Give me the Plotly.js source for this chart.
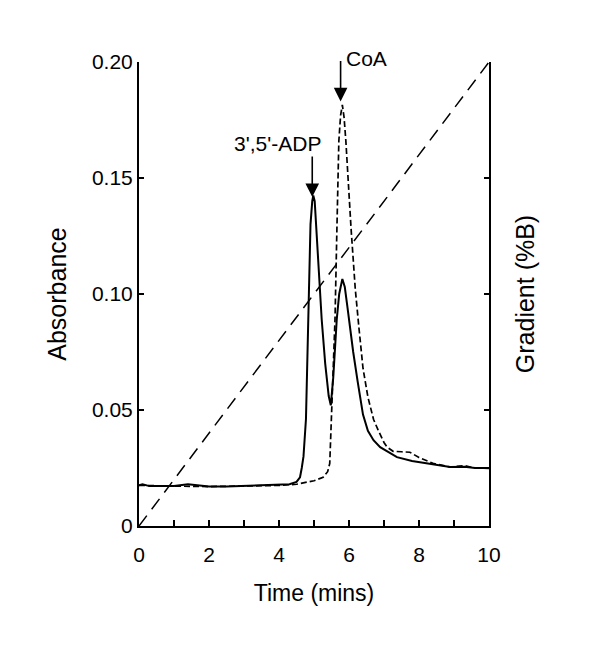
<!DOCTYPE html>
<html>
<head>
<meta charset="utf-8">
<script src="https://cdn.plot.ly/plotly-3.0.1.min.js"></script>
<style>
  body { margin: 0; background: #fff; }
  #chart { width: 600px; height: 645px; }
</style>
</head>
<body>
<div id="chart"></div>
<script>
// 3',5'-ADP trace (solid)
var adpTime = [0, 0.1, 0.3, 1.0, 1.4, 2.0, 2.5, 3.0, 3.5, 4.0, 4.3, 4.5, 4.6, 4.65, 4.7, 4.77, 4.82, 4.86, 4.9, 4.95, 4.98, 5.02, 5.06, 5.12, 5.22, 5.32, 5.42, 5.48, 5.55, 5.65, 5.72, 5.81, 5.88, 5.95, 6.03, 6.12, 6.25, 6.4, 6.54, 6.7, 6.89, 7.1, 7.37, 7.8, 8.23, 8.6, 8.89, 9.3, 9.6, 10];
var adpAbs  = [0.0175, 0.018, 0.0172, 0.0172, 0.018, 0.017, 0.017, 0.0172, 0.0175, 0.0178, 0.018, 0.019, 0.021, 0.025, 0.03, 0.046, 0.075, 0.105, 0.13, 0.14, 0.1425, 0.14, 0.13, 0.11, 0.089, 0.07, 0.056, 0.052, 0.064, 0.089, 0.1, 0.1065, 0.103, 0.095, 0.085, 0.075, 0.062, 0.048, 0.041, 0.037, 0.034, 0.032, 0.0297, 0.028, 0.027, 0.026, 0.0254, 0.0255, 0.025, 0.025];

// CoA trace (dashed)
var coaTime = [0, 0.5, 1.0, 2.0, 3.0, 4.0, 4.5, 4.8, 5.0, 5.26, 5.39, 5.45, 5.49, 5.55, 5.6, 5.65, 5.71, 5.76, 5.81, 5.86, 5.91, 6.06, 6.09, 6.18, 6.29, 6.4, 6.54, 6.7, 6.83, 7.0, 7.09, 7.26, 7.5, 7.74, 8.0, 8.4, 8.89, 9.3, 9.6, 10];
var coaAbs  = [0.0175, 0.0175, 0.0172, 0.017, 0.0172, 0.0175, 0.018, 0.019, 0.0195, 0.021, 0.0234, 0.027, 0.046, 0.068, 0.089, 0.125, 0.166, 0.177, 0.1815, 0.176, 0.166, 0.128, 0.122, 0.102, 0.0845, 0.068, 0.0556, 0.046, 0.0414, 0.036, 0.034, 0.0322, 0.032, 0.0318, 0.0295, 0.027, 0.0254, 0.026, 0.025, 0.0248];

// gradient (%B)
var gradTime = [0, 10];
var gradB = [0, 100];

var xTicks = [0, 1, 2, 3, 4, 5, 6, 7, 8, 9, 10];
var xTickText = ['0', '', '2', '', '4', '', '6', '', '8', '', '10'];
var yTicks = [0, 0.05, 0.10, 0.15, 0.20];
var yTickText = ['0', '0.05', '0.10', '0.15', '0.20'];

var font = 'Liberation Sans, Arial, sans-serif';

var traces = [
  { x: gradTime, y: gradB, yaxis: 'y2', mode: 'lines',
    line: { color: '#000', width: 1.5, dash: '13px,8px' }, hoverinfo: 'skip' },
  { x: coaTime, y: coaAbs, mode: 'lines',
    line: { color: '#000', width: 1.7, dash: '6px,3px' } },
  { x: adpTime, y: adpAbs, mode: 'lines',
    line: { color: '#000', width: 2 } }
];

var layout = {
  width: 600, height: 645,
  margin: { l: 139, r: 111, t: 62, b: 119 },
  paper_bgcolor: '#fff', plot_bgcolor: '#fff',
  showlegend: false,
  font: { family: font, size: 21, color: '#000' },
  xaxis: {
    range: [0, 10], tickvals: xTicks, ticktext: xTickText,
    ticks: 'inside', ticklen: 6, tickwidth: 1.5, tickcolor: '#000',
    showline: true, linecolor: '#000', linewidth: 2,
    showgrid: false, zeroline: false, ticklabelstandoff: 9,
    title: { text: 'Time (mins)', font: { size: 23 }, standoff: 20 }
  },
  yaxis: {
    range: [0, 0.2], tickvals: yTicks, ticktext: yTickText,
    ticks: 'inside', ticklen: 5, tickwidth: 1.5, tickcolor: '#000',
    showline: true, linecolor: '#000', linewidth: 2,
    showgrid: false, zeroline: false,
    title: { text: 'Absorbance', font: { size: 25 }, standoff: 18 }
  },
  yaxis2: {
    range: [0, 100], overlaying: 'y', side: 'right', dtick: 25,
    ticks: 'inside', ticklen: 5, tickwidth: 1.5, tickcolor: '#000',
    showticklabels: false,
    showline: true, linecolor: '#000', linewidth: 2,
    showgrid: false, zeroline: false,
    title: { text: 'Gradient (%B)', font: { size: 25 }, standoff: 26 }
  },
  annotations: [
    { x: 4.95, y: 0.1418, xref: 'x', yref: 'y', text: '', showarrow: true,
      ax: 0, ay: -42, arrowhead: 2, arrowsize: 1.7, arrowwidth: 1.6, arrowcolor: '#000' },
    { x: 5.76, y: 0.183, xref: 'x', yref: 'y', text: '', showarrow: true,
      ax: 0, ay: -42, arrowhead: 2, arrowsize: 1.7, arrowwidth: 1.6, arrowcolor: '#000' },
    { x: 3.97, y: 0.1649, xref: 'x', yref: 'y', text: "3',5'-ADP", showarrow: false,
      yanchor: 'middle', font: { size: 21 } },
    { x: 6.51, y: 1.0086, xref: 'x', yref: 'paper', text: 'CoA', showarrow: false,
      yanchor: 'middle', font: { size: 21 } }
  ]
};

Plotly.newPlot('chart', traces, layout, { staticPlot: true });
</script>
</body>
</html>
